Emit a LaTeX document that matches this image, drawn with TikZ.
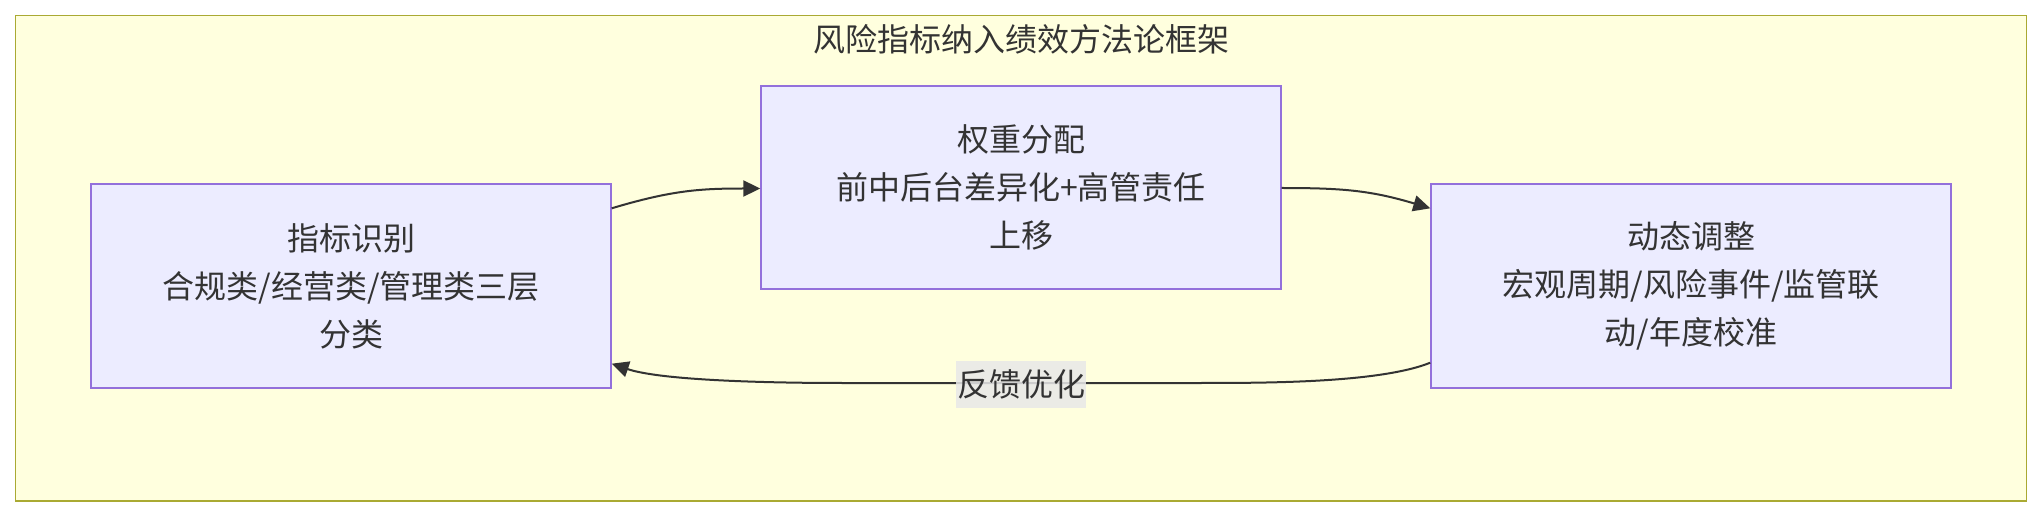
\documentclass[tikz,border=0pt]{standalone}
\usepackage{fontspec}
\setmainfont{Noto Sans CJK SC}
\usetikzlibrary{arrows.meta}
\definecolor{bgyel}{HTML}{FFFFDE}
\definecolor{frameol}{HTML}{AAAA33}
\definecolor{nodefill}{HTML}{ECECFF}
\definecolor{nodeline}{HTML}{9370DB}
\definecolor{ink}{HTML}{333333}
\definecolor{lblbg}{HTML}{E8E8E8}
\tikzset{
  procbox/.style={draw=nodeline, fill=nodefill, line width=1.4pt, minimum width=520pt, inner sep=0pt,
    align=center, text=ink, font=\fontsize{32}{48}\selectfont},
  flow/.style={draw=ink, line width=2pt, -{Triangle[length=17pt,width=16pt]}},
  lbl/.style={fill=lblbg, fill opacity=0.85, text opacity=1, text=ink, inner xsep=1pt, inner ysep=0pt,
    minimum height=47pt, font=\fontsize{32}{36}\selectfont}
}
\begin{document}
\begin{tikzpicture}[x=1pt,y=-1pt]
\useasboundingbox (0,0) rectangle (2042,518);
\fill[white] (0,0) rectangle (2042,518);
\draw[draw=frameol, fill=bgyel, line width=1.4pt] (15.6,15.6) rectangle (2026.4,501);
\node[text=ink, font=\fontsize{32}{36}\selectfont] (title) at (1021,39) {风险指标纳入绩效方法论框架};
\node[procbox, minimum height=204pt] (ident) at (351,286) {指标识别\\合规类/经营类/管理类三层\\分类};
\node[procbox, minimum height=203pt] (weight) at (1021,187.5) {权重分配\\前中后台差异化+高管责任\\上移};
\node[procbox, minimum height=204pt] (adjust) at (1691,286) {动态调整\\宏观周期/风险事件/监管联\\动/年度校准};
\draw[flow] ([yshift=-25pt]ident.north east) .. controls +(60,-18) and +(-60,0) .. ([yshift=-1pt]weight.east -| weight.west) ;
\draw[flow] ([yshift=-0.5pt]weight.east) .. controls +(60,0) and +(-60,-18) .. ([yshift=-25pt]adjust.north west);
\draw[flow] ([yshift=26pt]adjust.south west) .. controls +(-50,20) and +(70,0) .. (1200,383) -- (842,383) .. controls +(-70,0) and +(50,17) .. ([yshift=25pt]ident.south east);
\node[lbl] (fb) at (1021,384.5) {反馈优化};
\end{tikzpicture}
\end{document}
